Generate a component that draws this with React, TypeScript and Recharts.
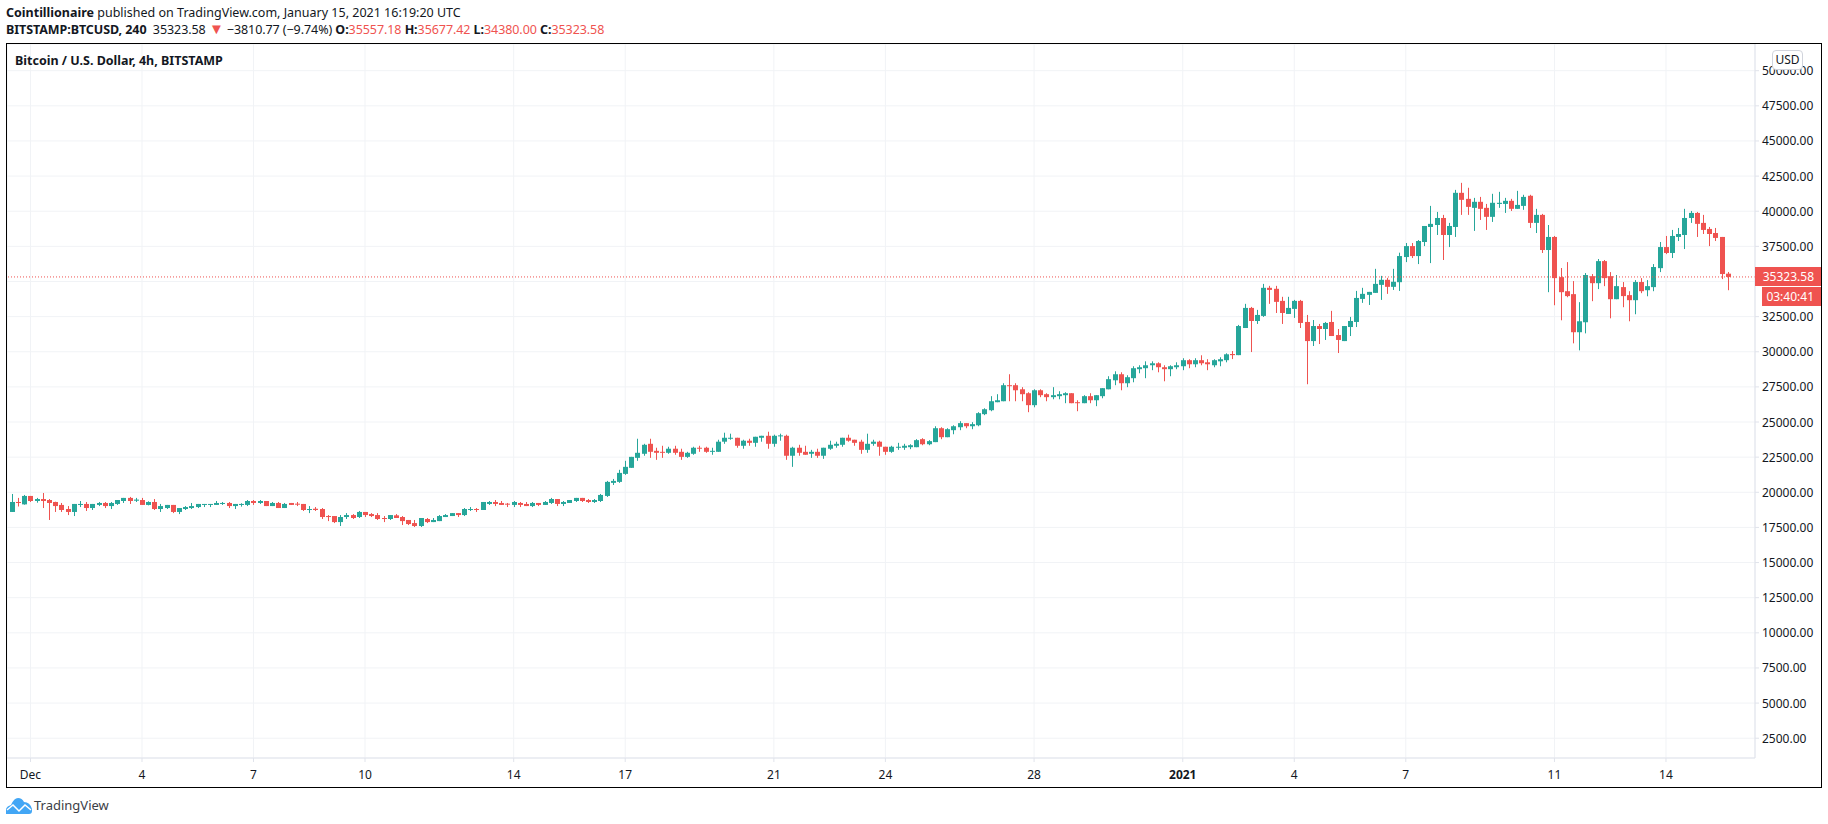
import { Bar, CartesianGrid, ComposedChart, ReferenceLine, XAxis, YAxis } from 'recharts';

// 4h candles, first one is 18h before Dec 1 00:00 (bar 0)
const FIRST_BAR = -3;

const opens = [
  18600, 19310, 19140, 19740, 19380, 19520, 19450, 19310, 19100, 18810,
  18600, 19100, 19170, 18880, 19100, 19240, 19020, 19170, 19380, 19600,
  19400, 19450, 19100, 19310, 18810, 18880, 19100, 18600, 18810, 18880,
  18950, 19120, 19120, 19100, 19170, 19240, 19020, 19120, 19100, 19380,
  19240, 19380, 19020, 19240, 18880, 19240, 19190, 19170, 18740, 18830,
  18810, 18310, 18310, 17880, 18240, 18380, 18240, 18600, 18450, 18380,
  18170, 18100, 18360, 18240, 18030, 17810, 17600, 18100, 17880, 17950,
  18240, 18310, 18520, 18380, 18740, 18810, 18740, 19170, 19310, 19240,
  19190, 19100, 19240, 19170, 19020, 19240, 19100, 19240, 19520, 19170,
  19240, 19380, 19600, 19450, 19310, 19380, 19740, 20670, 20740, 21310,
  21740, 22450, 22740, 23450, 22950, 22880, 22810, 23100, 22880, 22520,
  22740, 23170, 23170, 22900, 22880, 23600, 23810, 23880, 23310, 23670,
  23520, 23880, 24020, 23450, 24000, 24020, 22600, 23170, 22880, 22740,
  22880, 22600, 23100, 23310, 23380, 23880, 23740, 23600, 23020, 23450,
  23600, 23240, 22880, 23170, 23170, 23210, 23210, 23780, 23420, 23570,
  24560, 23920, 24420, 24630, 24920, 24700, 24770, 25560, 25840, 26410,
  26480, 27620, 27620, 27330, 27050, 26200, 27260, 26980, 26770, 26840,
  26910, 27050, 26410, 26340, 26840, 26550, 26840, 27330, 27970, 28400,
  27760, 28120, 28760, 28830, 29040, 29180, 28900, 28760, 28900, 28970,
  29400, 29110, 29400, 29250, 29040, 29320, 29400, 29840, 29760, 31690,
  33120, 32190, 32550, 34550, 34480, 33620, 32690, 33050, 33620, 32120,
  30760, 31830, 31620, 32120, 31190, 30760, 31760, 32120, 33760, 34050,
  34190, 34760, 35120, 34620, 34950, 36740, 37520, 36810, 37810, 38880,
  39020, 39520, 38310, 38880, 41310, 40880, 40240, 40670, 40240, 39600,
  40520, 40520, 40740, 40170, 40380, 41100, 39170, 39740, 37240, 38170,
  35310, 34310, 34100, 31390, 32100, 35380, 34880, 36450, 35380, 33740,
  34600, 34030, 33670, 34960, 34380, 34600, 35950, 37450, 37030, 38170,
  38310, 39520, 39880, 39170, 38740, 38450, 38170, 35557.18,
];
const highs = [
  19880, 19600, 19810, 19740, 19600, 19950, 19520, 19330, 19240, 19020,
  19170, 19380, 19310, 19170, 19310, 19310, 19310, 19450, 19600, 19670,
  19600, 19600, 19360, 19520, 19170, 19100, 19100, 18880, 19020, 19240,
  19170, 19170, 19170, 19380, 19310, 19310, 19170, 19220, 19450, 19450,
  19450, 19380, 19310, 19310, 19240, 19240, 19310, 19170, 19020, 18950,
  18880, 18380, 18310, 18380, 18520, 18450, 18670, 18600, 18520, 18520,
  18310, 18380, 18450, 18310, 18030, 18030, 18170, 18170, 18170, 18380,
  18450, 18520, 18520, 18880, 18950, 18880, 19310, 19380, 19450, 19380,
  19240, 19380, 19310, 19310, 19310, 19240, 19380, 19600, 19520, 19380,
  19450, 19600, 19600, 19520, 19520, 19880, 20810, 20950, 21600, 22240,
  22520, 23810, 23450, 23810, 23170, 23310, 23240, 23310, 23100, 22880,
  23240, 23310, 23240, 23170, 23740, 24240, 24170, 23880, 23740, 23810,
  23950, 24020, 24310, 24100, 24170, 24100, 23240, 23380, 23310, 23020,
  23100, 23170, 23670, 23600, 23880, 24100, 23740, 23740, 24170, 23740,
  23670, 23240, 23310, 23520, 23450, 23420, 23780, 23850, 23710, 24700,
  24630, 24560, 24770, 25060, 24920, 24990, 25700, 25980, 26840, 26980,
  27760, 28400, 27760, 27480, 27120, 27330, 27330, 27050, 27480, 27190,
  27120, 27050, 26550, 26910, 27050, 26910, 27410, 28260, 28610, 28540,
  28330, 28970, 29040, 29320, 29320, 29250, 29040, 29040, 29250, 29540,
  29470, 29540, 29750, 29470, 29470, 29610, 29890, 30050, 31910, 33410,
  33190, 32980, 34830, 34690, 34690, 33910, 33910, 33690, 33690, 32620,
  32260, 31980, 32120, 32910, 31620, 31830, 32480, 34330, 34550, 34260,
  35900, 35400, 35260, 35900, 37050, 37740, 37740, 37950, 38950, 40380,
  39950, 39740, 39170, 41520, 42020, 41670, 40950, 41020, 40520, 41240,
  41380, 40950, 40880, 41450, 41170, 41170, 40170, 39810, 39020, 38240,
  35960, 36380, 35030, 33530, 35600, 35530, 36600, 36530, 35670, 35460,
  34960, 34310, 35100, 35240, 35100, 36240, 37810, 38240, 38670, 38810,
  40170, 40020, 39950, 39740, 38880, 38810, 38170, 35677.42,
];
const lows = [
  18600, 18990, 19120, 19310, 19260, 18880, 18030, 18600, 18600, 18380,
  18310, 18950, 18670, 18740, 19020, 18880, 18810, 19100, 19240, 19170,
  19310, 19100, 19070, 18740, 18600, 18810, 18520, 18450, 18740, 18810,
  18880, 18950, 18950, 19100, 19100, 18880, 18810, 18980, 19020, 19100,
  19170, 19020, 19020, 18880, 18880, 19100, 19020, 18670, 18520, 18670,
  18100, 17950, 17810, 17600, 18100, 18100, 18170, 18240, 18240, 18030,
  17880, 18030, 18170, 17670, 17670, 17530, 17530, 17810, 17880, 17950,
  18240, 18310, 18240, 18310, 18670, 18600, 18740, 19100, 19020, 19100,
  18950, 18950, 18950, 19020, 18950, 19020, 19100, 19170, 19020, 19020,
  19240, 19310, 19310, 19240, 19240, 19310, 19670, 20520, 20670, 21240,
  21740, 22240, 22600, 22450, 22310, 22450, 22740, 22670, 22310, 22450,
  22670, 22880, 22810, 22670, 22880, 23450, 23740, 23170, 23100, 23310,
  23240, 23600, 23100, 23240, 23670, 22310, 21810, 22600, 22670, 22450,
  22450, 22380, 23020, 23170, 23240, 23600, 23310, 22740, 22810, 23310,
  22600, 22670, 22810, 23020, 23020, 23070, 23210, 23350, 23350, 23570,
  23780, 23920, 24130, 24420, 24560, 24490, 24700, 25490, 25770, 26410,
  26480, 26480, 26480, 26480, 25700, 26050, 26770, 26480, 26620, 26620,
  26340, 26340, 25770, 26340, 26340, 26130, 26690, 27330, 27620, 27260,
  27480, 27830, 28470, 28120, 28690, 28540, 27900, 28260, 28760, 28690,
  28830, 28900, 29040, 28690, 28900, 28970, 29250, 29480, 29760, 31690,
  29980, 31980, 32480, 33410, 32760, 31980, 32690, 32410, 31690, 27690,
  30410, 30550, 30840, 31120, 29910, 30760, 31120, 31760, 33480, 33330,
  34190, 33690, 34120, 34400, 34330, 36380, 36670, 36240, 37520, 36310,
  38310, 36530, 37450, 38170, 39740, 39740, 38600, 39380, 38670, 39240,
  40240, 39880, 40020, 40170, 40100, 38810, 38450, 37030, 34240, 33310,
  32240, 33880, 30600, 30100, 31310, 33600, 34460, 34670, 32380, 33740,
  33170, 32170, 32670, 34170, 33950, 34310, 35670, 36950, 36670, 37880,
  37310, 39170, 38170, 38380, 37520, 37880, 35170, 34380,
];
const closes = [
  19310, 19240, 19740, 19380, 19520, 19380, 19240, 19020, 18740, 18600,
  19170, 19170, 18880, 19170, 19240, 19020, 19240, 19450, 19600, 19380,
  19480, 19100, 19310, 18810, 19020, 19100, 18600, 18880, 18950, 19020,
  19170, 19170, 19170, 19240, 19240, 19020, 19170, 19170, 19380, 19240,
  19380, 19020, 19240, 18880, 19170, 19100, 19120, 18740, 18810, 18740,
  18240, 18240, 17880, 18240, 18380, 18170, 18600, 18380, 18310, 18100,
  18100, 18380, 18170, 17950, 17740, 17600, 18170, 17880, 18030, 18310,
  18380, 18520, 18380, 18810, 18810, 18740, 19310, 19310, 19170, 19100,
  19120, 19310, 19100, 19020, 19240, 19100, 19310, 19520, 19170, 19310,
  19450, 19600, 19380, 19310, 19450, 19810, 20740, 20810, 21380, 21810,
  22520, 22810, 23380, 22880, 22810, 22810, 23100, 22810, 22520, 22810,
  23170, 23100, 22880, 22950, 23600, 23880, 23880, 23310, 23670, 23520,
  23950, 24020, 23450, 24020, 24050, 22600, 23170, 22810, 22670, 22880,
  22600, 23170, 23380, 23450, 23880, 23670, 23520, 23020, 23450, 23600,
  23240, 22880, 23240, 23240, 23310, 23350, 23710, 23420, 23640, 24560,
  23920, 24490, 24700, 24920, 24700, 24850, 25630, 25910, 26480, 26550,
  27620, 27550, 27260, 26980, 26200, 27260, 26910, 26770, 26910, 26980,
  27050, 26340, 26340, 26840, 26550, 26910, 27410, 28050, 28400, 27760,
  28190, 28830, 28900, 29040, 29180, 28900, 28760, 28970, 29040, 29400,
  29110, 29400, 29180, 29110, 29400, 29470, 29820, 29760, 31830, 33120,
  32190, 32620, 34550, 34400, 33550, 32760, 33120, 33620, 32050, 30760,
  31830, 31620, 32050, 31120, 30840, 31830, 32190, 33830, 34120, 34260,
  34830, 35120, 34620, 34980, 36810, 37520, 36810, 37880, 38950, 39100,
  39520, 38310, 38950, 41310, 40810, 40310, 40670, 40170, 39600, 40600,
  40600, 40740, 40170, 40450, 41020, 39170, 39740, 37240, 38170, 35240,
  34240, 33960, 31390, 32170, 35460, 34880, 36450, 35240, 33740, 34670,
  33960, 33670, 34960, 34310, 34670, 36030, 37450, 37030, 38240, 38380,
  39520, 39880, 39100, 38670, 38380, 38100, 35530, 35323.58,
];

const tickBars = [0, 18, 36, 54, 78, 96, 120, 138, 162, 186, 204, 222, 246, 264];
const tickLabels = ['Dec', '4', '7', '10', '14', '17', '21', '24', '28', '2021', '4', '7', '11', '14'];
const priceTicks = [2500, 5000, 7500, 10000, 12500, 15000, 17500, 20000, 22500, 25000, 27500, 30000, 32500, 35000, 37500, 40000, 42500, 45000, 47500, 50000];
const lastPrice = 35323.58;

const UP = '#26a69a';
const DOWN = '#ef5350';
const GRID = '#f1f3f6';
const AXIS = '#e0e3eb';
const INK = '#131722';
const FONT = '"Noto Sans", sans-serif';

const rows = opens.map((open, i) => ({
  bar: FIRST_BAR + i,
  wick: [lows[i], highs[i]],
  body: [Math.min(open, closes[i]), Math.max(open, closes[i])],
  color: closes[i] >= open ? UP : DOWN,
}));

function Wick(props: any) {
  const { x, y, width, height, payload } = props;
  return <rect x={Math.round(x + width / 2 - 0.5)} y={y} width={1} height={height} fill={payload.color} />;
}

function Body(props: any) {
  const { x, y, width, height, payload } = props;
  return <rect x={Math.round(x + width / 2 - 0.5) - 2} y={y} width={5} height={Math.max(height, 1)} fill={payload.color} />;
}

function TimeTick(props: any) {
  const { x, y, payload } = props;
  const label = tickLabels[tickBars.indexOf(payload.value)];
  return (
    <text x={x} y={y + 15} textAnchor="middle" fontFamily={FONT} fontSize={12} fill={INK} fontWeight={label === '2021' ? 700 : 400}>
      {label}
    </text>
  );
}

function PriceTick(props: any) {
  const { x, y, payload } = props;
  return (
    <text x={x + 1} y={y + 4.5} fontFamily={FONT} fontSize={12} fill={INK}>
      {payload.value.toFixed(2)}
    </text>
  );
}

const textLine = { position: 'absolute', whiteSpace: 'nowrap', fontFamily: FONT, fontSize: 12.5, color: INK } as const;

export default function App() {
  return (
    <div style={{ position: 'absolute', left: 0, top: 0, width: 1828, height: 824, background: '#fff' }}>
      <div style={{ ...textLine, left: 6, top: 4 }}>
        <b>Cointillionaire</b> published on TradingView.com, January 15, 2021 16:19:20 UTC
      </div>
      <div style={{ ...textLine, left: 6, top: 21, letterSpacing: -0.07 }}>
        <b>BITSTAMP:BTCUSD, 240</b>&nbsp; 35323.58 <span style={{ color: DOWN, fontSize: 15, lineHeight: '12px' }}>▼</span> −3810.77 (−9.74%) <b>O:</b>
        <span style={{ color: DOWN }}>35557.18</span> <b>H:</b>
        <span style={{ color: DOWN }}>35677.42</span> <b>L:</b>
        <span style={{ color: DOWN }}>34380.00</span> <b>C:</b>
        <span style={{ color: DOWN }}>35323.58</span>
      </div>

      <div style={{ position: 'absolute', left: 6, top: 43, width: 1816, height: 745, boxSizing: 'border-box', border: '1px solid #000' }}>
        <ComposedChart width={1814} height={743} data={rows} barGap={-5} margin={{ top: 0, right: 0, bottom: 0, left: 0 }}>
          <CartesianGrid stroke={GRID} />
          <XAxis
            dataKey="bar"
            type="number"
            domain={[-3.79, 278.37]}
            allowDataOverflow
            ticks={tickBars}
            interval={0}
            height={29}
            stroke={AXIS}
            tickSize={4}
            tick={TimeTick}
          />
          <YAxis
            orientation="right"
            domain={[1092, 51900]}
            allowDataOverflow
            ticks={priceTicks}
            interval={0}
            width={66}
            stroke={AXIS}
            tickSize={4}
            tick={PriceTick}
          />
          <ReferenceLine y={lastPrice} stroke={DOWN} strokeDasharray="1 2" />
          <Bar dataKey="wick" barSize={5} shape={Wick} isAnimationActive={false} />
          <Bar dataKey="body" barSize={5} shape={Body} isAnimationActive={false} />
        </ComposedChart>
        <div style={{ ...textLine, left: 8, top: 8, fontWeight: 700, fontSize: 12.5 }}>Bitcoin / U.S. Dollar, 4h, BITSTAMP</div>
        <div style={{ ...textLine, left: 1765, top: 6, width: 29, height: 18, lineHeight: '18px', textAlign: 'center', fontSize: 12, background: '#fff', border: '1px solid #d1d4dc', borderRadius: 4 }}>USD</div>
        <div style={{ ...textLine, left: 1748, top: 223, width: 66, height: 19, lineHeight: '19px', fontSize: 12, textAlign: 'right', paddingRight: 7, boxSizing: 'border-box', background: DOWN, color: '#fff' }}>35323.58</div>
        <div style={{ ...textLine, left: 1755, top: 243, width: 59, height: 19, lineHeight: '19px', fontSize: 12, textAlign: 'right', paddingRight: 7, boxSizing: 'border-box', background: DOWN, color: '#fff' }}>03:40:41</div>
      </div>

      <svg style={{ position: 'absolute', left: 6, top: 797 }} width={27} height={17} viewBox="0 0 27 17">
        <path d="M0 17 V12 Q1 9 5 8 Q8 1 12 1 Q16 1 18 5 Q24 5 26 12 V14 Q26 17 23 17 Z" fill="#2196f3" opacity={0.85} />
        <path d="M1 13 L7 8 L13 14 L19 8 L25 13" fill="none" stroke="#fff" strokeWidth={1.5} />
      </svg>
      <div style={{ ...textLine, left: 34, top: 796, fontSize: 13, color: '#3c4046' }}>TradingView</div>
    </div>
  );
}
